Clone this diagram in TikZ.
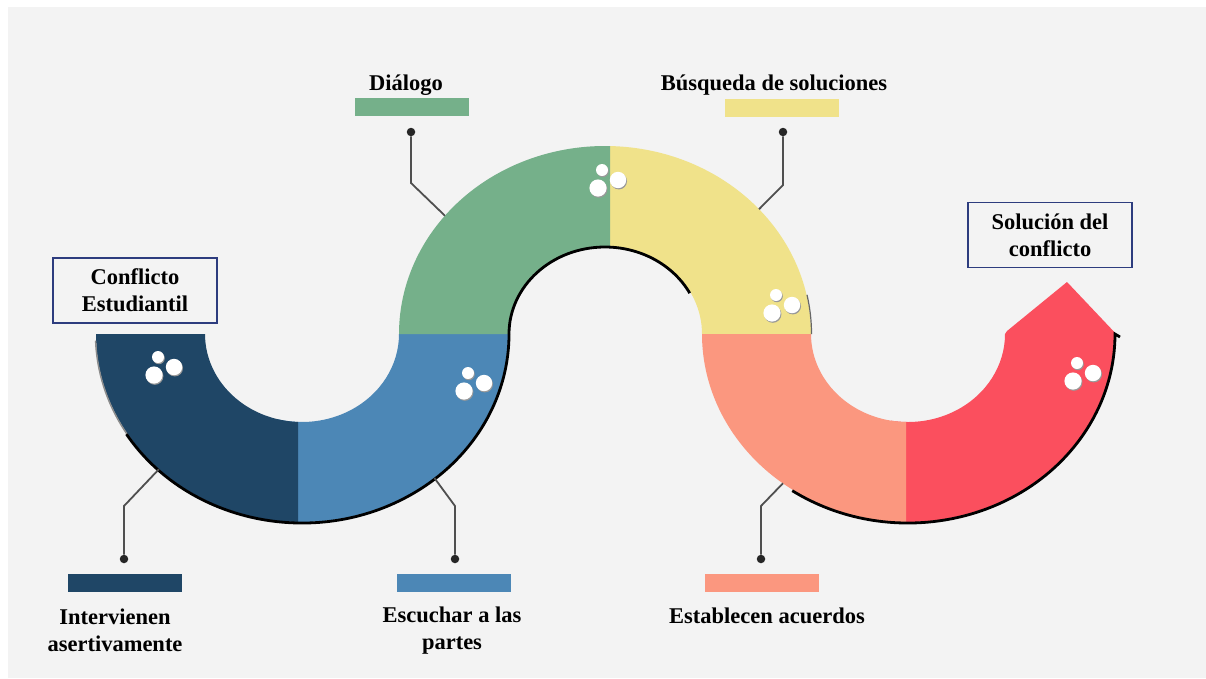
\documentclass[tikz,border=0pt]{standalone}
\usepackage{fontspec}
\setmainfont{Liberation Serif}
\usetikzlibrary{calc}
\definecolor{bgc}{HTML}{F3F3F3}
\definecolor{navyc}{HTML}{1F4666}
\definecolor{bluec}{HTML}{4C87B6}
\definecolor{greenc}{HTML}{75B08A}
\definecolor{yellowc}{HTML}{F0E28A}
\definecolor{salmonc}{HTML}{FB977F}
\definecolor{redc}{HTML}{FB4F5E}
\definecolor{boxblue}{HTML}{2D3C7E}
\definecolor{conngray}{HTML}{4F4F4F}
\newcommand{\RingSeg}[4]{%
  \fill[#4] ($(#1,-334)+(#2:206 and 188)$) arc[start angle=#2,end angle=#3,x radius=206,y radius=188]
    -- ($(#1,-334)+(#3:97 and 88)$) arc[start angle=#3,end angle=#2,x radius=97,y radius=88] -- cycle;}
\tikzset{
  lbl/.style={font=\fontsize{22.5}{27}\selectfont\bfseries, align=center, inner sep=0pt, text=black},
  titlebox/.style={lbl, draw=boxblue, line width=1.1pt, fill=bgc, minimum width=164pt, minimum height=65pt},
  barbox/.style={rectangle, inner sep=0pt, minimum width=114pt, minimum height=18pt},
  conn/.style={draw=conngray, line width=1.8pt},
  pinnode/.style={circle, fill=black!85, inner sep=0pt, minimum size=8.5pt},
  shadeline/.style={draw=black, line width=2.8pt},
  pics/dotcluster/.style={code={
    \fill[black!40] (0.8,-1.2) circle (6);   \fill[white] (0,0) circle (6);
    \fill[black!40] (16.8,-11.2) circle (8.2); \fill[white] (16,-10) circle (8.2);
    \fill[black!40] (-3.2,-19.2) circle (8.6); \fill[white] (-4,-18) circle (8.6);
  }}
}
\begin{document}
\begin{tikzpicture}[x=1pt,y=1pt]
\useasboundingbox (0,0) rectangle (1206,-678);
\fill[white] (0,0) rectangle (1206,-678);
\fill[bgc] (8,-7) rectangle (1206,-678);

% ring segments
\RingSeg{302}{255}{360}{bluec}
\begin{scope}
  \clip (0,0) rectangle (298,-678);
  \RingSeg{302}{180}{290}{navyc}
\end{scope}
\RingSeg{605}{0}{90}{yellowc}
\begin{scope}
  \clip (0,0) rectangle (610,-678);
  \RingSeg{605}{80}{180}{greenc}
\end{scope}
\fill[redc] ($(908,-334)+(260:206 and 188)$) arc[start angle=260,end angle=360,x radius=206,y radius=188]
  -- (1119,-337) -- (1067,-282) -- (1007,-331)
  -- ($(908,-334)+(0:97 and 88)$) arc[start angle=360,end angle=260,x radius=97,y radius=88] -- cycle;
\begin{scope}
  \clip (0,0) rectangle (906,-678);
  \RingSeg{908}{180}{280}{salmonc}
\end{scope}

% shadows
\draw[draw=black!45, line width=1.5pt] ($(302,-334)+(182:206.5 and 188.5)$) arc[start angle=182,end angle=215,x radius=206.5,y radius=188.5];
\draw[shadeline] ($(302,-334)+(212:207 and 189)$) arc[start angle=212,end angle=360,x radius=207,y radius=189];
\draw[shadeline] ($(605,-334)+(180:96 and 87)$) arc[start angle=180,end angle=28,x radius=96,y radius=87];
\draw[draw=black!60, line width=1.2pt] ($(605,-334)+(12:206.5 and 188.5)$) arc[start angle=12,end angle=0,x radius=206.5,y radius=188.5];
\draw[shadeline] ($(908,-334)+(236:207 and 189)$) arc[start angle=236,end angle=360,x radius=207,y radius=189] -- (1120,-337);

% dot clusters
\pic at (158,-357) {dotcluster};
\pic at (468,-373) {dotcluster};
\pic at (602,-170) {dotcluster};
\pic at (776,-295) {dotcluster};
\pic at (1077,-363) {dotcluster};

% connectors
\coordinate (e1) at ($(302,-334)+(226:206 and 188)$);
\coordinate (k1) at (124,-506);
\node[pinnode] (p1) at (124,-559) {};
\coordinate (e2) at ($(302,-334)+(310:206 and 188)$);
\coordinate (k2) at (455,-506);
\node[pinnode] (p2) at (455,-559) {};
\coordinate (e3) at ($(908,-334)+(232.6:206 and 188)$);
\coordinate (k3) at (761,-506);
\node[pinnode] (p3) at (761,-559) {};
\coordinate (e4) at ($(605,-334)+(141:206 and 188)$);
\coordinate (k4) at (411,-183);
\node[pinnode] (p4) at (411,-132) {};
\coordinate (e5) at ($(605,-334)+(41.6:206 and 188)$);
\coordinate (k5) at (783,-185);
\node[pinnode] (p5) at (783,-132) {};
\draw[conn] (e1) -- (k1) -- (p1);
\draw[conn] (e2) -- (k2) -- (p2);
\draw[conn] (e3) -- (k3) -- (p3);
\draw[conn] (e4) -- (k4) -- (p4);
\draw[conn] (e5) -- (k5) -- (p5);

% bars
\node[barbox, fill=navyc] (b1) at (125,-583) {};
\node[barbox, fill=bluec] (b2) at (454,-583) {};
\node[barbox, fill=salmonc] (b3) at (762,-583) {};
\node[barbox, fill=greenc] (b4) at (412,-107) {};
\node[barbox, fill=yellowc] (b5) at (782,-108) {};

% labels
\node[lbl, anchor=base] (t4) at (406,-90) {Diálogo};
\node[lbl, anchor=base] (t5) at (774,-90) {Búsqueda de soluciones};
\node[lbl] (t1) at (115,-630) {Intervienen\\asertivamente};
\node[lbl] (t2) at (452,-631) {Escuchar a las\\partes};
\node[lbl, anchor=base] (t3) at (767,-623) {Establecen acuerdos};
\node[titlebox] (start) at (135,-290.5) {Conflicto\\Estudiantil};
\node[titlebox] (goal) at (1050,-235) {Solución del\\conflicto};
\end{tikzpicture}
\end{document}
